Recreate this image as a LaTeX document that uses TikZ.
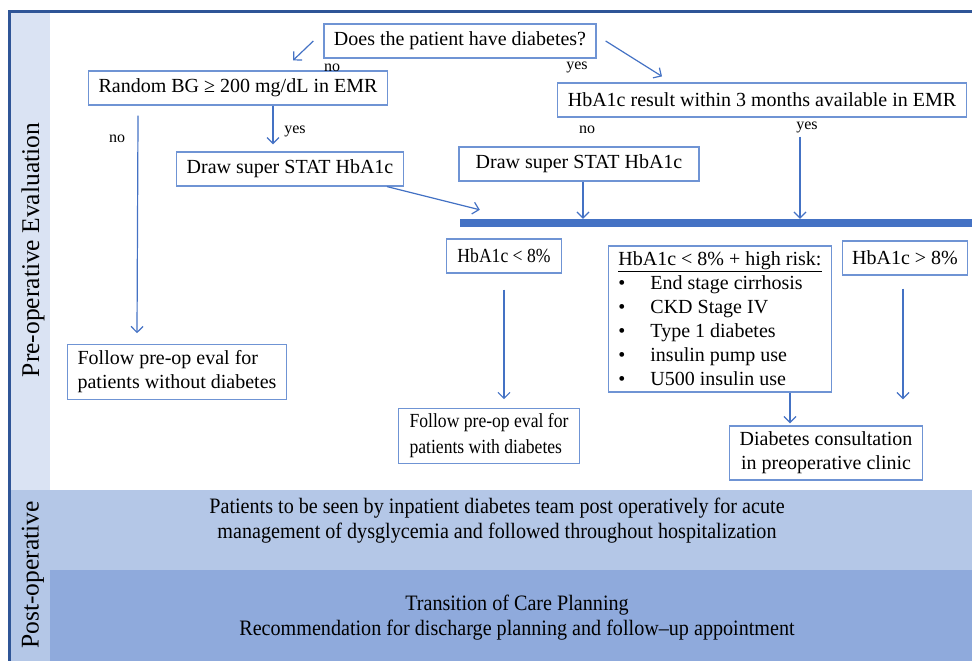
\documentclass[tikz,border=0pt]{standalone}
\usepackage{fontspec}
\setmainfont{Liberation Serif}
\newfontfamily\narrowfont[FakeStretch=0.88]{Liberation Serif}
\newfontfamily\bandfont[FakeStretch=0.915]{Liberation Serif}
\usetikzlibrary{calc}
\usetikzlibrary{positioning}
\usetikzlibrary{arrows.meta}

\definecolor{framecol}{HTML}{2F5597}
\definecolor{sidecol}{HTML}{DAE3F3}
\definecolor{postcol}{HTML}{B4C7E7}
\definecolor{carecol}{HTML}{8FAADC}
\definecolor{arrowcol}{HTML}{4472C4}
\definecolor{boxcol}{HTML}{6F94D4}

\begin{document}
\begin{tikzpicture}
		[
		x=1pt, y=-1pt,
		font=\fontsize{20}{24}\selectfont,
		>={Straight Barb[length=6pt,width=12pt]}
		]
		
		% Node styles: boxes, arrows and branch labels
		\tikzstyle{box node}=[draw=boxcol,line width=1.2pt,fill=white,inner xsep=10pt,inner ysep=6pt,minimum height=34pt,align=left];
		\tikzstyle{narrow box}=[box node,font=\narrowfont\fontsize{20}{26}\selectfont];
		\tikzstyle{flow arrow}=[->,draw=arrowcol,line width=1.2pt];
		\tikzstyle{branch label}=[font=\fontsize{16}{18}\selectfont,inner sep=0pt];
		\tikzstyle{band text}=[align=center,font=\bandfont\fontsize{22}{25}\selectfont];
		\tikzstyle{side text}=[rotate=90,font=\fontsize{25.5}{28}\selectfont];
		
		\useasboundingbox (0,0) rectangle (972,661);
		
		% Background: frame, side column, post-operative bands
		\fill[sidecol] (11,13) rectangle (50,490);
		\fill[postcol] (11,490) rectangle (972,661);
		\fill[carecol] (50,570) rectangle (972,661);
		\fill[framecol] (8,10) rectangle (972,13);
		\fill[framecol] (8,10) rectangle (11,661);
		
		% Section titles
		\node[side text] (pre) at (33,250) {Pre-operative Evaluation};
		\node[side text] (post) at (33,575) {Post-operative};
		
		% The flowchart
		\node[box node] (q) at (460,41) {Does the patient have diabetes?};
		\node[box node] (rbg) at (238,88) {Random BG ≥ 200 mg/dL in EMR};
		\node[box node] (hba) at (762,100) {HbA1c result within 3 months available in EMR};
		\node[box node] (stat1) at (290,169) {Draw super STAT HbA1c};
		\node[box node,minimum width=240pt] (stat2) at (579,164) {Draw super STAT HbA1c};
		\node[fill=arrowcol,minimum width=512pt,minimum height=8pt,inner sep=0pt] (bar) at (716,223) {};
		\node[box node] (nodm) at (177,372) {Follow pre-op eval for\\patients without diabetes};
		\node[narrow box,inner xsep=11pt] (lt8) at (504,256) {HbA1c < 8\%};
		\node[box node] (risk) at (720,319) {\underline{HbA1c < 8\% + high risk:}\\
			\makebox[32pt][l]{\textbullet}End stage cirrhosis\\
			\makebox[32pt][l]{\textbullet}CKD Stage IV\\
			\makebox[32pt][l]{\textbullet}Type 1 diabetes\\
			\makebox[32pt][l]{\textbullet}insulin pump use\\
			\makebox[32pt][l]{\textbullet}U500 insulin use};
		\node[box node] (gt8) at (905,258) {HbA1c > 8\%};
		\node[narrow box,inner xsep=11pt,inner ysep=5pt] (wdm) at (489,436) {Follow pre-op eval for\\patients with diabetes};
		\node[box node,align=center] (consult) at (826,453) {Diabetes consultation\\in preoperative clinic};
		
		% Arrows
		\draw[flow arrow] ([xshift=-10pt]q.west) -- ([xshift=55pt,yshift=10pt]rbg.north);
		\draw[flow arrow] ([xshift=9pt]q.east) -- ([xshift=-100pt,yshift=6pt]hba.north);
		\draw[flow arrow] ([xshift=35pt]rbg.south) -- ([xshift=-17pt,yshift=7pt]stat1.north);
		\draw[flow arrow] ($(rbg.south west)+(50,10)$) -- ($(nodm.north)+(-40,-11)$);
		\draw[flow arrow] ([xshift=-17pt]stat1.south east) -- ([xshift=20pt,yshift=9pt]bar.north west);
		\draw[flow arrow] ([xshift=4pt]stat2.south) -- ([xshift=4pt]stat2.south |- bar.north);
		\draw[flow arrow] ($(hba.south)+(38,19)$) coordinate (h1) -- (h1 |- bar.north);
		\draw[flow arrow] ($(lt8.south)+(0,16)$) -- ($(lt8.south |- wdm.north)+(0,-9)$);
		\draw[flow arrow] ($(risk.south -| consult.north)+(-36,0)$) -- ($(consult.north)+(-36,-2)$);
		\draw[flow arrow] ($(gt8.south)+(-2,13)$) -- ($(gt8.south |- consult.north)+(-2,-26)$);
		
		% Branch labels
		\node[branch label] (qno) at (332,68) {no};
		\node[branch label] (qyes) at (577,67) {yes};
		\node[branch label] (rbgno) at (117,139) {no};
		\node[branch label] (rbgyes) at (295,131) {yes};
		\node[branch label] (hbano) at (587,130) {no};
		\node[branch label] (hbayes) at (807,127) {yes};
		
		% Post-operative care
		\node[band text] (inpat) at (497,521) {Patients to be seen by inpatient diabetes team post operatively for acute\\management of dysglycemia and followed throughout hospitalization};
		\node[band text] (care) at (517,618) {Transition of Care Planning\\Recommendation for discharge planning and follow–up appointment};
		\end{tikzpicture}
\end{document}
